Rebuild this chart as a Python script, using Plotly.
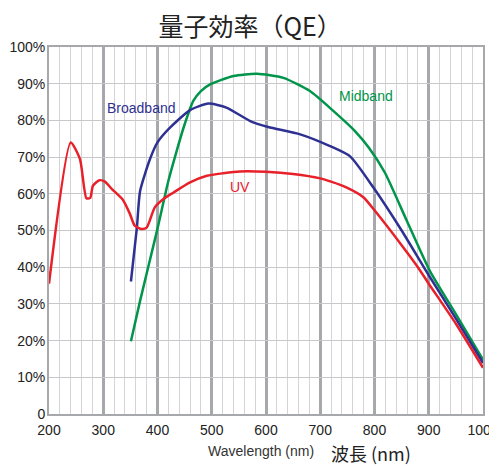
import plotly.graph_objects as go

uv_x = [200, 240, 257, 269, 276, 281, 293, 303, 316, 336, 349, 358, 371, 380, 395, 411, 429, 460, 491, 521, 552, 600, 650, 700, 720, 750, 780, 800, 850, 880, 900, 950, 1000]
uv_y = [35.5, 74, 69.5, 58.8, 58.9, 62.2, 63.7, 63.3, 61.3, 58.4, 54.6, 51.3, 50.4, 50.8, 56.3, 58.6, 60.3, 63.1, 64.9, 65.6, 66.1, 66.0, 65.4, 64.2, 63.3, 61.6, 59.0, 55.5, 46.0, 40.0, 35.5, 24.6, 12.6]

bb_x = [351, 362, 368, 386, 400, 423, 460, 494, 527, 570, 604, 663, 718, 755, 798, 850, 900, 950, 1000]
bb_y = [36.1, 50.8, 60.8, 69.4, 74.0, 78.0, 82.8, 84.6, 83.5, 79.9, 78.2, 76.2, 73.0, 70.2, 61.7, 50.0, 37.8, 26.0, 13.9]

mb_x = [351, 368, 399, 420, 435, 448, 466, 480, 497, 540, 583, 632, 681, 724, 764, 790, 819, 860, 902, 950, 1000]
mb_y = [19.8, 30.9, 49.9, 63.5, 71.5, 78.0, 85.3, 88.0, 89.8, 92.1, 92.7, 91.6, 88.0, 82.6, 77.1, 72.5, 65.8, 52.5, 39.0, 27.2, 14.8]

y_ticks = [0, 10, 20, 30, 40, 50, 60, 70, 80, 90, 100]
y_labels = ["0", "10%", "20%", "30%", "40%", "50%", "60%", "70%", "80%", "90%", "100%"]
x_ticks = [200, 300, 400, 500, 600, 700, 800, 900, 1000]

red = "#e8202a"
blue = "#2e3192"
green = "#00954a"

fig = go.Figure()
fig.add_trace(go.Scatter(x=mb_x, y=mb_y, mode="lines", line=dict(color=green, width=2.5, shape="spline", smoothing=0.6)))
fig.add_trace(go.Scatter(x=bb_x, y=bb_y, mode="lines", line=dict(color=blue, width=2.5, shape="spline", smoothing=0.6)))
fig.add_trace(go.Scatter(x=uv_x, y=uv_y, mode="lines", line=dict(color=red, width=2.5, shape="spline", smoothing=0.6)))

fig.add_annotation(x=371, y=83.4, text="Broadband", showarrow=False, xanchor="center", yanchor="middle",
                   font=dict(family="Liberation Sans, Arial", size=14, color=blue))
fig.add_annotation(x=784, y=86.7, text="Midband", showarrow=False, xanchor="center", yanchor="middle",
                   font=dict(family="Liberation Sans, Arial", size=14, color=green))
fig.add_annotation(x=552, y=61.9, text="UV", showarrow=False, xanchor="center", yanchor="middle",
                   font=dict(family="Liberation Sans, Arial", size=14, color=red))

fig.add_annotation(xref="paper", yref="paper", x=0.488, y=-0.102, text="Wavelength (nm)", showarrow=False,
                   xanchor="center", yanchor="middle", font=dict(family="Liberation Sans, Arial", size=14, color="#333333"))
fig.add_annotation(xref="paper", yref="paper", x=0.742, y=-0.106, text="波長 (nm)", showarrow=False,
                   xanchor="center", yanchor="middle", font=dict(family="Noto Sans CJK JP", size=18, color="#222222"))

fig.update_layout(
    width=497, height=466,
    margin=dict(l=41, r=22, t=39, b=60, autoexpand=False),
    paper_bgcolor="white", plot_bgcolor="white",
    showlegend=False,
    title=dict(text="量子効率（QE）", x=0.487, xanchor="center", y=0.959, yanchor="middle",
               font=dict(family="Noto Sans CJK JP", size=25, color="#222222")),
    xaxis=dict(range=[200, 1000], tickvals=x_ticks, showgrid=True, gridcolor="#a7a8ab", gridwidth=3,
               minor=dict(dtick=20, showgrid=True, gridcolor="#d4d4d6", gridwidth=1),
               showline=True, linecolor="#a7a8ab", linewidth=2, mirror=True, zeroline=False, automargin=False,
               ticklabeloverflow="allow", ticklabelstandoff=2,
               ticks="", tickfont=dict(family="Liberation Sans, Arial", size=14, color="#222222")),
    yaxis=dict(range=[0, 100], tickvals=y_ticks, ticktext=y_labels, showgrid=True, gridcolor="#c8c8ca", gridwidth=1,
               showline=True, linecolor="#a7a8ab", linewidth=2, mirror=True, zeroline=False, automargin=False,
               ticklabeloverflow="allow",
               ticks="", ticklabelstandoff=-1,
               tickfont=dict(family="Liberation Sans, Arial", size=14, color="#222222")),
)

fig.write_html("out.html")
